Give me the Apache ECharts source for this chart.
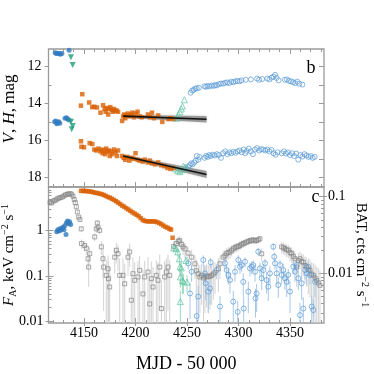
<!DOCTYPE html>
<html>
<head>
<meta charset="utf-8">
<script src="https://cdn.jsdelivr.net/npm/echarts@6/dist/echarts.min.js"></script>
<style>
  html, body { margin: 0; padding: 0; background: #fff; }
  #chart { width: 374px; height: 374px; }
</style>
</head>
<body>
<div id="chart"></div>
<script>
// ---- axis ranges and tick positions ----
const X_MIN = 4115.5, X_MAX = 4383
const MAG_MIN = 11.05, MAG_MAX = 18.53
const F_MIN = 0.0091, F_MAX = 9.27
const BAT_MIN = 0.00224, BAT_MAX = 0.134

const xMajor = [4150, 4200, 4250, 4300, 4350]
const xMinor = [4120, 4130, 4140, 4160, 4170, 4180, 4190, 4210, 4220, 4230, 4240,
  4260, 4270, 4280, 4290, 4310, 4320, 4330, 4340, 4360, 4370, 4380]
const magMajor = [12, 14, 16, 18]
const magMinor = [13, 15, 17]
const magAll = [12, 13, 14, 15, 16, 17, 18]
const fMajor = [0.01, 0.1, 1]
const fMinor = [0.02, 0.03, 0.04, 0.05, 0.06, 0.07, 0.08, 0.09,
  0.2, 0.3, 0.4, 0.5, 0.6, 0.7, 0.8, 0.9, 2, 3, 4, 5, 6, 7, 8, 9]
const batMajor = [0.01, 0.1]
const batMinor = [0.003, 0.004, 0.005, 0.006, 0.007, 0.008, 0.009,
  0.02, 0.03, 0.04, 0.05, 0.06, 0.07, 0.08, 0.09]

// ---- panel b: magnitudes [MJD, mag] ----
const hBlueFilled = [[4122, 11.25], [4123, 11.3], [4124.5, 11.28], [4126, 11.3], [4127, 11.33], [4128.5, 11.3], [4135.5, 11.12]]
const vBlueFilled = [[4121.5, 15.0], [4122.5, 14.95], [4123.5, 15.1], [4124.5, 15.05], [4125.5, 15.0], [4126.5, 15.08],
  [4131.5, 14.8], [4133, 14.78], [4134, 14.85], [4135.5, 14.9]]
const hGreenFilled = [[4137.3, 11.5], [4139, 11.92]]
const vGreenFilled = [[4137.3, 15.0], [4138, 15.4], [4139, 15.22]]
const hOrange = [[4147, 14.12], [4148.3, 13.5], [4155, 13.95], [4158, 14.2], [4160, 14.18], [4162.5, 14.22], [4166, 14.5],
  [4168.5, 14.1], [4170, 14.3], [4171, 14.45], [4172, 14.25], [4173.5, 14.6], [4174.5, 14.3], [4175.5, 14.2], [4177, 14.35],
  [4178, 14.45], [4179, 14.3], [4180, 14.4], [4181.5, 14.38], [4183, 14.45], [4187, 14.95], [4188, 14.7], [4189, 14.6],
  [4190, 14.8], [4191, 14.65], [4192.5, 14.55], [4194, 14.7], [4195.5, 14.6], [4197, 14.5], [4198.5, 14.75], [4200, 14.55],
  [4202, 14.45], [4204, 14.7], [4206, 14.75], [4212, 14.6], [4214, 14.75], [4216, 14.5], [4218, 14.8], [4222, 14.65],
  [4226, 15.0], [4232, 14.85], [4234, 14.8], [4237, 14.85]]
const vOrange = [[4147, 16.05], [4147.5, 16.35], [4150, 16.38], [4155.5, 16.15], [4158, 16.2], [4160, 16.5], [4162, 16.55],
  [4164, 16.45], [4166, 16.6], [4167, 16.5], [4168, 16.7], [4169.5, 16.55], [4170.5, 16.75], [4171.5, 16.45], [4172.5, 16.62],
  [4174, 16.55], [4175, 16.85], [4176, 16.6], [4177.5, 16.75], [4179, 16.5], [4180.5, 16.65], [4182, 16.85], [4183, 16.55],
  [4187, 16.85], [4188.5, 16.95], [4190, 17.05], [4192, 16.9], [4194, 17.1], [4196, 16.95], [4198, 17.0], [4200, 16.7],
  [4202, 17.05], [4204, 17.1], [4207, 17.15], [4209, 17.05], [4212, 17.2], [4214, 17.1], [4216, 17.25], [4219, 17.3],
  [4222, 17.2], [4225, 17.35], [4228, 17.4], [4231, 17.5], [4234, 17.55], [4237, 17.5]]
const hGreenOpen = [[4240, 14.8], [4241.5, 14.6], [4243, 14.45], [4244.5, 14.3], [4245.5, 14.15], [4247.5, 13.8]]
const vGreenOpen = [[4239, 17.55], [4241, 17.65], [4243, 17.7], [4245, 17.6], [4246.5, 17.4], [4248, 17.45], [4250, 17.5]]
const hBlueOpen = [[4253.5, 13.42], [4255, 13.3], [4256.5, 13.27], [4258, 13.2], [4259.5, 13.18], [4261.5, 13.15],
  [4267, 13.07], [4268.5, 13.1], [4270, 13.05], [4272, 13.08], [4274, 13.03], [4276, 13.05], [4277.5, 13.0], [4279, 13.02],
  [4281, 12.95], [4283, 12.92], [4285, 12.93], [4287, 12.88], [4289, 12.86], [4291, 12.9], [4293, 12.82], [4295, 12.85],
  [4297, 12.8], [4299, 12.78], [4301, 12.8], [4303, 12.75], [4307, 12.72], [4312, 12.7], [4318, 12.65], [4320, 12.72],
  [4323, 12.68], [4328, 12.65], [4330, 12.7], [4332, 12.6], [4334, 12.55], [4335.5, 12.45], [4337, 12.62], [4339, 12.75],
  [4345, 12.72], [4347, 12.7], [4349, 12.78], [4351, 12.8], [4353, 12.85], [4355, 12.9], [4357, 12.82], [4359, 12.93], [4362, 12.98]]
const vBlueOpen = [[4251, 17.45], [4252.5, 17.35], [4254, 17.25], [4255.5, 17.3], [4257, 17.2], [4258.5, 17.1], [4259.5, 16.85],
  [4261, 17.05], [4262, 16.9], [4267, 16.95], [4268.5, 16.85], [4270, 16.9], [4271.5, 16.8], [4273, 16.85], [4275, 16.78],
  [4277, 16.82], [4279, 16.75], [4281, 16.8], [4283, 16.95], [4285, 16.7], [4287, 16.6], [4289, 16.75], [4291, 16.65],
  [4293, 16.7], [4295, 16.62], [4297, 16.68], [4299, 16.6], [4301, 16.55], [4303, 16.65], [4305, 16.5], [4306.5, 16.7],
  [4308, 16.58], [4310, 16.45], [4312, 16.6], [4314, 16.75], [4316, 16.5], [4318, 16.42], [4320, 16.55], [4322, 16.48],
  [4324, 16.5], [4326, 16.55], [4328, 16.5], [4330, 16.6], [4332, 16.52], [4334, 16.7], [4336, 16.78], [4338, 16.65],
  [4342, 16.7], [4344, 16.6], [4346, 16.72], [4348, 16.65], [4350, 16.8], [4352, 16.7], [4354, 16.85], [4356, 16.72],
  [4358, 17.05], [4360, 16.8], [4362, 16.88], [4364, 16.75], [4366, 16.82], [4368, 16.9], [4370, 16.85], [4372, 16.95], [4374, 16.9]]

// linear fits with uncertainty bands
const fitX = [4188, 4269]
const hFit = [14.69, 14.86]
const hFitLo = [14.61, 14.68]
const hFitHi = [14.77, 15.04]
const vFit = [16.85, 17.85]
const vFitLo = [16.77, 17.66]
const vFitHi = [16.93, 18.04]

// ---- panel c: fluxes [MJD, flux] and [MJD, flux, error] ----
const fBlueFilled = [[4123.5, 0.95], [4124.5, 1.05], [4125.5, 0.98], [4126.5, 1.1], [4127.5, 1.02], [4128.5, 1.12], [4129.5, 1.2],
  [4130.5, 1.05], [4131.5, 1.3], [4132.5, 0.82], [4133, 1.5], [4134, 1.65], [4135, 1.45], [4136, 1.58], [4137, 1.38]]
const fOrange = [[4147, 7.6], [4149, 7.6], [4151, 7.55], [4153, 7.5], [4155, 7.4], [4157, 7.3], [4159, 7.1], [4161, 6.9],
  [4163, 6.8], [4165, 6.6], [4167, 6.45], [4169, 6.2], [4171, 5.9], [4173, 5.6], [4175, 5.4], [4177, 5.1], [4179, 4.8],
  [4181, 4.5], [4183, 4.2], [4185, 3.9], [4187, 3.6], [4189, 3.4], [4191, 3.15], [4193, 2.95], [4195, 2.75], [4197, 2.55],
  [4199, 2.4], [4201, 2.25], [4203, 2.1], [4205, 1.9], [4207, 1.72], [4209, 1.65], [4211, 1.62], [4213, 1.6], [4215, 1.62],
  [4217, 1.6], [4219, 1.6], [4221, 1.55], [4223, 1.48], [4225, 1.4], [4227, 1.3], [4229, 1.22], [4231, 1.17], [4233, 1.1],
  [4234.5, 1.06], [4236, 0.70]]
const fGray = [[4117, 4.2, 0.35], [4118.5, 4.1, 0.35], [4120, 4.5, 0.35], [4121.5, 4.7, 0.35], [4123, 4.8, 0.35],
  [4124.5, 5.2, 0.35], [4126, 5.3, 0.35], [4127.5, 5.4, 0.35], [4129, 5.6, 0.35], [4130.5, 5.9, 0.35], [4132, 6.2, 0.35],
  [4133.5, 6.4, 0.35], [4135, 6.5, 0.35], [4136.5, 6.6, 0.35], [4138, 6.4, 0.35], [4139.3, 5.8, 0.35], [4140.5, 4.9, 0.35],
  [4141.5, 4.2, 0.3], [4142.5, 3.4, 0.3], [4143.5, 2.6, 0.25], [4144.8, 2.0, 0.2], [4146, 1.78, 0.2], [4147.3, 1.1, 0.15],
  [4147.5, 0.52, 0.12], [4150.6, 0.47, 0.12], [4152.2, 0.41, 0.12], [4153.9, 0.24, 0.1], [4154.5, 0.157, 0.1],
  [4155.5, 0.31, 0.12], [4160.4, 0.73, 0.15], [4161.9, 1.1, 0.2], [4162.9, 1.48, 0.25], [4163.6, 1.2, 0.2],
  [4165.2, 1.02, 0.2], [4166.8, 0.44, 0.15], [4168.4, 0.24, 0.15], [4169, 0.157, 0.14], [4171.6, 0.103, 0.12],
  [4173.3, 0.144, 0.14], [4173.8, 0.087, 0.12], [4174.9, 0.057, 0.1], [4179.8, 0.26, 0.15], [4181.3, 0.37, 0.18],
  [4183, 0.31, 0.18], [4184.6, 0.103, 0.14], [4187.8, 0.103, 0.14], [4189.5, 0.067, 0.12], [4192.7, 0.26, 0.16],
  [4194.3, 0.34, 0.18], [4195.9, 0.029, 0.08], [4197.5, 0.112, 0.14], [4199.2, 0.08, 0.12], [4202.4, 0.095, 0.12],
  [4204, 0.133, 0.14], [4207.2, 0.04, 0.1], [4208.9, 0.095, 0.12], [4212.1, 0.122, 0.14], [4213.8, 0.024, 0.07],
  [4215.3, 0.087, 0.12], [4217, 0.057, 0.1], [4220.2, 0.103, 0.12], [4221.8, 0.08, 0.12], [4223.5, 0.157, 0.14],
  [4225.1, 0.019, 0.06], [4228.3, 0.095, 0.12], [4229.9, 0.122, 0.12], [4231.5, 0.157, 0.14], [4233.2, 0.103, 0.12],
  [4237, 0.45, 0.12], [4239.6, 0.52, 0.15], [4241.5, 0.58, 0.15], [4242.9, 0.61, 0.15], [4244.5, 0.5, 0.15],
  [4246.1, 0.44, 0.15], [4248, 0.4, 0.15], [4251, 0.32, 0.12], [4254.5, 0.26, 0.12], [4257.7, 0.186, 0.1],
  [4259, 0.13, 0.1], [4260.9, 0.112, 0.08], [4262.5, 0.095, 0.08], [4264.2, 0.103, 0.08], [4266, 0.09, 0.08],
  [4267.4, 0.095, 0.08], [4269, 0.1, 0.08], [4270.6, 0.095, 0.08], [4272.3, 0.098, 0.08], [4273.9, 0.103, 0.08],
  [4275.5, 0.11, 0.08], [4277.2, 0.12, 0.08], [4280.4, 0.144, 0.1], [4282, 0.186, 0.1], [4285.2, 0.26, 0.1],
  [4286.8, 0.28, 0.1], [4288.5, 0.31, 0.1], [4290, 0.33, 0.1], [4291.7, 0.34, 0.1], [4293.3, 0.37, 0.1], [4295, 0.4, 0.1],
  [4296.6, 0.42, 0.1], [4298.2, 0.44, 0.1], [4299.8, 0.45, 0.1], [4301.4, 0.47, 0.1], [4303, 0.5, 0.1], [4304.6, 0.52, 0.1],
  [4306.2, 0.54, 0.1], [4307.9, 0.56, 0.1], [4309.5, 0.58, 0.1], [4311.1, 0.61, 0.1], [4312.7, 0.6, 0.1], [4314.3, 0.63, 0.1],
  [4316, 0.6, 0.1], [4317.6, 0.61, 0.1], [4319.2, 0.63, 0.1], [4320.8, 0.665, 0.1], [4322.5, 0.31, 0.1],
  [4341.9, 0.44, 0.12], [4343.5, 0.42, 0.12], [4345.1, 0.40, 0.12], [4346.7, 0.38, 0.12], [4348.3, 0.37, 0.12],
  [4350, 0.33, 0.12], [4351.6, 0.31, 0.12], [4353.2, 0.27, 0.1], [4354.8, 0.24, 0.1], [4356.5, 0.157, 0.1],
  [4358, 0.22, 0.1], [4359.7, 0.24, 0.1], [4361.3, 0.21, 0.1], [4362.9, 0.2, 0.1], [4364.5, 0.17, 0.1], [4366.2, 0.157, 0.1],
  [4367.8, 0.14, 0.1], [4369.4, 0.133, 0.1], [4371, 0.11, 0.09], [4372.6, 0.103, 0.09], [4374.3, 0.09, 0.09],
  [4375.9, 0.08, 0.08], [4377.5, 0.07, 0.08], [4379.1, 0.062, 0.07]]
const fGreenOpen = [[4237, 0.42, 0.06], [4239.5, 0.40, 0.06], [4241, 0.34, 0.07], [4242.5, 0.24, 0.06], [4243.2, 0.16, 0.05],
  [4244.5, 0.15, 0.05], [4243.5, 0.095, 0.04], [4245.5, 0.08, 0.04], [4246.5, 0.075, 0.035], [4243.5, 0.027, 0.02],
  [4249, 0.22, 0.05], [4250, 0.073, 0.03]]
const fBlueOpen = [[4251.2, 0.19, 0.05], [4252.9, 0.041, 0.03], [4254.5, 0.124, 0.05], [4259.4, 0.013, 0.02],
  [4260.9, 0.035, 0.025], [4265.8, 0.225, 0.06], [4267.4, 0.114, 0.05], [4268.1, 0.069, 0.04], [4270.6, 0.045, 0.03],
  [4272.3, 0.053, 0.03], [4273, 0.2, 0.05], [4278.8, 0.135, 0.05], [4282, 0.021, 0.015], [4286.9, 0.19, 0.05],
  [4288.5, 0.135, 0.05], [4290.1, 0.105, 0.04], [4291.7, 0.081, 0.04], [4294.9, 0.027, 0.02], [4296.6, 0.124, 0.05],
  [4299.2, 0.016, 0.012], [4299.8, 0.225, 0.06], [4301.4, 0.16, 0.05], [4303.1, 0.174, 0.05], [4304.6, 0.074, 0.04],
  [4305, 0.019, 0.015], [4306.3, 0.206, 0.05], [4309.5, 0.045, 0.03], [4311.1, 0.147, 0.05], [4312.8, 0.16, 0.05],
  [4314.3, 0.174, 0.05], [4316, 0.124, 0.05], [4316.5, 0.032, 0.02], [4317.6, 0.041, 0.025], [4319.2, 0.343, 0.07],
  [4320.8, 0.147, 0.05], [4322.5, 0.0885, 0.04], [4324.1, 0.135, 0.05], [4325.7, 0.19, 0.05], [4327.3, 0.081, 0.04],
  [4328.9, 0.058, 0.03], [4330.5, 0.114, 0.05], [4333.8, 0.443, 0.08], [4334.7, 0.266, 0.06], [4335.4, 0.19, 0.05],
  [4337.1, 0.114, 0.05], [4338.6, 0.063, 0.03], [4340.3, 0.174, 0.05], [4341.9, 0.105, 0.04], [4343.5, 0.135, 0.05],
  [4345.1, 0.0885, 0.04], [4346.8, 0.074, 0.04], [4348.3, 0.105, 0.04], [4350, 0.045, 0.03], [4353.2, 0.16, 0.05],
  [4354.8, 0.124, 0.05], [4356.5, 0.174, 0.05], [4358, 0.0885, 0.04], [4359.7, 0.0136, 0.012], [4361.3, 0.069, 0.04],
  [4362.9, 0.019, 0.015], [4364.6, 0.135, 0.05], [4366.2, 0.114, 0.05], [4367.7, 0.16, 0.05], [4369.4, 0.105, 0.04],
  [4371.1, 0.021, 0.015], [4372.6, 0.0176, 0.013], [4374.3, 0.074, 0.04]]

// ---- styling ----
const FONT = 'Liberation Serif'
const FRAME = '#9a9a9a'
const ORANGE = '#d95f02'
const BLUE = '#2f7bbf'
const LBLUE = '#5b9bd5'
const GREEN = '#1b9e77'
const LGREEN = '#5fc4a0'

const xBase = { type: 'value', min: X_MIN, max: X_MAX }
const magBase = { type: 'value', min: MAG_MIN, max: MAG_MAX, inverse: true }
const fBase = { type: 'log', min: F_MIN, max: F_MAX }
const batBase = { type: 'log', min: BAT_MIN, max: BAT_MAX }

function tickAxis(gridIndex, position, values, length, inside, base) {
  return Object.assign({
    gridIndex: gridIndex,
    position: position,
    axisLine: { show: false },
    splitLine: { show: false },
    axisLabel: { show: false },
    axisTick: { show: true, inside: inside, length: length, customValues: values, lineStyle: { color: FRAME, width: 1 } }
  }, base)
}

function labels(values, margin) {
  return {
    show: true, customValues: values, margin: margin, color: '#000',
    fontFamily: FONT, fontSize: 14, formatter: v => String(v)
  }
}

function richText(size) {
  return {
    n: { fontFamily: FONT, fontSize: size, color: '#000', lineHeight: 18 },
    i: { fontFamily: FONT, fontSize: size, color: '#000', fontStyle: 'italic', lineHeight: 18 },
    sup: { fontFamily: FONT, fontSize: 10, color: '#000', lineHeight: 10, verticalAlign: 'top' },
    sub: { fontFamily: FONT, fontSize: 10, color: '#000', lineHeight: 10, verticalAlign: 'bottom' }
  }
}

const xAxes = [
  tickAxis(0, 'bottom', xMajor, 5, true, xBase),
  tickAxis(0, 'bottom', xMinor, 3, true, xBase),
  tickAxis(0, 'top', xMajor, 5, true, xBase),
  tickAxis(0, 'top', xMinor, 3, true, xBase),
  Object.assign(tickAxis(1, 'bottom', xMajor, 3, false, xBase), {
    axisLabel: labels(xMajor, 3),
    name: 'MJD - 50 000', nameLocation: 'middle', nameGap: 32, nameMoveOverlap: false,
    nameTextStyle: { fontFamily: FONT, fontSize: 18, color: '#000' }
  }),
  tickAxis(1, 'bottom', xMajor, 5, true, xBase),
  tickAxis(1, 'bottom', xMinor, 3, true, xBase),
  tickAxis(1, 'top', xMajor, 5, true, xBase)
]

const yAxes = [
  Object.assign(tickAxis(0, 'left', magMajor, 4, false, magBase), {
    axisLabel: labels(magMajor, 7),
    name: '{i|V}{n|, }{i|H}{n|, mag}', nameLocation: 'middle', nameGap: 30, nameRotate: 90, nameMoveOverlap: false,
    nameTextStyle: { rich: richText(17), padding: [0, 0, 0, 18] }
  }),
  tickAxis(0, 'left', magMinor, 3, true, magBase),
  tickAxis(0, 'right', magAll, 5, true, magBase),
  Object.assign(tickAxis(1, 'left', fMajor, 3, false, fBase), {
    axisLabel: labels(fMajor, 5),
    name: '{i|F}{sub|A}{n|, keV cm}{sup|−2}{n| s}{sup|−1}', nameLocation: 'middle', nameGap: 30, nameRotate: 90,
    nameMoveOverlap: false,
    nameTextStyle: { rich: richText(15) }
  }),
  tickAxis(1, 'left', fMajor, 5, true, fBase),
  tickAxis(1, 'left', fMinor, 3, true, fBase),
  Object.assign(tickAxis(1, 'right', batMajor, 3, false, batBase), {
    axisLabel: labels(batMajor, 4),
    name: '{n|BAT, cts cm}{sup|−2}{n| s}{sup|−1}', nameLocation: 'middle', nameGap: 28, nameRotate: -90,
    nameMoveOverlap: false,
    nameTextStyle: { rich: richText(15) }
  }),
  tickAxis(1, 'right', batMajor, 5, true, batBase),
  tickAxis(1, 'right', batMinor, 3, true, batBase)
]

function scatter(data, panel, symbol, size, fill, border, extra) {
  return Object.assign({
    type: 'scatter',
    xAxisIndex: panel === 0 ? 0 : 4,
    yAxisIndex: panel === 0 ? 0 : 3,
    data: data,
    symbol: symbol,
    symbolSize: size,
    silent: true,
    itemStyle: { color: fill, borderColor: border || fill, borderWidth: border ? 0.9 : 0 }
  }, extra || {})
}

function errorBars(data, color) {
  return {
    type: 'custom', xAxisIndex: 4, yAxisIndex: 3, silent: true, clip: true,
    data: data,
    renderItem: function (params, api) {
      const x = api.value(0), y = api.value(1), e = api.value(2)
      const a = api.coord([x, Math.max(y - e, F_MIN)])
      const b = api.coord([x, y + e])
      return { type: 'line', shape: { x1: a[0], y1: a[1], x2: b[0], y2: b[1] }, style: { stroke: color, lineWidth: 1 } }
    }
  }
}

function fitBand(lo, hi) {
  return {
    type: 'custom', xAxisIndex: 0, yAxisIndex: 0, silent: true,
    data: fitX.map((x, i) => [x, lo[i], hi[i]]),
    renderItem: function (params, api) {
      if (params.dataIndex !== 0) return null
      const upper = fitX.map((x, i) => api.coord([x, hi[i]]))
      const lower = fitX.map((x, i) => api.coord([x, lo[i]])).reverse()
      return {
        type: 'polygon', shape: { points: upper.concat(lower) },
        style: { fill: 'rgba(40,40,40,0.4)', shadowBlur: 3, shadowColor: 'rgba(0,0,0,0.35)' }
      }
    }
  }
}

function fitLine(ys) {
  return {
    type: 'line', xAxisIndex: 0, yAxisIndex: 0, silent: true, showSymbol: false,
    data: fitX.map((x, i) => [x, ys[i]]),
    lineStyle: { color: '#111', width: 1.6 }
  }
}

const none = 'rgba(0,0,0,0)'

const chart = echarts.init(document.getElementById('chart'), null, { renderer: 'canvas' })
chart.setOption({
  animation: false,
  backgroundColor: '#fff',
  grid: [
    { left: 48.5, right: 50, top: 49, height: 138, show: true, borderColor: FRAME, borderWidth: 1.3, backgroundColor: none, outerBoundsMode: 'none' },
    { left: 48.5, right: 50, top: 187, height: 136, show: true, borderColor: FRAME, borderWidth: 1.3, backgroundColor: none, outerBoundsMode: 'none' }
  ],
  xAxis: xAxes,
  yAxis: yAxes,
  graphic: [
    { type: 'text', x: 311, y: 68, style: { text: 'b', fontFamily: FONT, fontSize: 18, fill: '#000', align: 'center', verticalAlign: 'middle' } },
    { type: 'text', x: 315.5, y: 197, style: { text: 'c', fontFamily: FONT, fontSize: 18, fill: '#000', align: 'center', verticalAlign: 'middle' } }
  ],
  series: [
    // panel b
    scatter(hBlueFilled, 0, 'circle', 5, BLUE),
    scatter(vBlueFilled, 0, 'circle', 5, BLUE),
    scatter(hGreenFilled, 0, 'triangle', 6, GREEN, null, { symbolRotate: 180 }),
    scatter(vGreenFilled, 0, 'triangle', 6, GREEN, null, { symbolRotate: 180 }),
    scatter(hOrange, 0, 'rect', 4.5, ORANGE),
    scatter(vOrange, 0, 'rect', 4.5, ORANGE),
    scatter(hGreenOpen, 0, 'triangle', 6, none, LGREEN),
    scatter(vGreenOpen, 0, 'triangle', 6, none, LGREEN),
    scatter(hBlueOpen, 0, 'circle', 5, none, LBLUE),
    scatter(vBlueOpen, 0, 'circle', 5, none, LBLUE),
    fitBand(hFitLo, hFitHi),
    fitBand(vFitLo, vFitHi),
    fitLine(hFit),
    fitLine(vFit),
    // panel c
    errorBars(fGray, '#d2d2d2'),
    scatter(fGray, 1, 'rect', 4, none, '#858585'),
    errorBars(fBlueOpen, '#a8c8e8'),
    scatter(fBlueOpen, 1, 'circle', 5, none, LBLUE),
    errorBars(fGreenOpen, '#9ad8c2'),
    scatter(fGreenOpen, 1, 'triangle', 6, none, LGREEN),
    scatter(fOrange, 1, 'rect', 4.5, ORANGE),
    scatter(fBlueFilled, 1, 'circle', 5, BLUE)
  ]
})
</script>
</body>
</html>
